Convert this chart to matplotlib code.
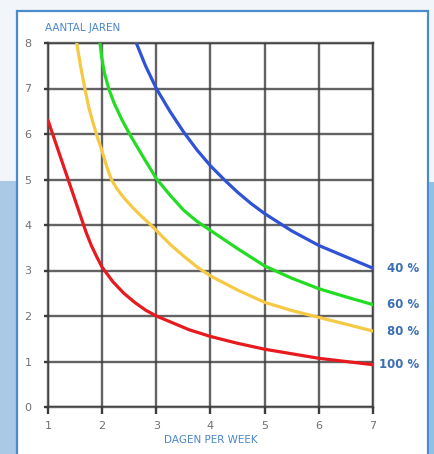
import matplotlib
matplotlib.use("Agg")
import matplotlib.pyplot as plt
from matplotlib.patches import Rectangle

# ---- data ----
days_ticks = [1, 2, 3, 4, 5, 6, 7]
years_ticks = [0, 1, 2, 3, 4, 5, 6, 7, 8]

red_x = [1.0, 1.1, 1.2, 1.3, 1.4, 1.5, 1.6, 1.7, 1.8, 1.9, 2.0, 2.2, 2.4, 2.6, 2.8,
         3.0, 3.3, 3.6, 4.0, 4.5, 5.0, 5.5, 6.0, 6.5, 7.0]
red_y = [6.3, 5.95, 5.6, 5.25, 4.9, 4.55, 4.2, 3.85, 3.55, 3.3, 3.07, 2.75, 2.5, 2.3, 2.13,
         2.0, 1.85, 1.7, 1.55, 1.4, 1.27, 1.17, 1.07, 1.0, 0.93]

yellow_x = [1.53, 1.6, 1.68, 1.75, 1.83, 1.92, 2.0, 2.08, 2.17, 2.27, 2.4, 2.55, 2.7,
            2.9, 3.0, 3.25, 3.5, 3.75, 4.0, 4.5, 5.0, 5.5, 6.0, 6.5, 7.0]
yellow_y = [8.0, 7.5, 7.0, 6.6, 6.25, 5.9, 5.62, 5.3, 5.0, 4.8, 4.6, 4.4, 4.22,
            4.0, 3.88, 3.58, 3.32, 3.08, 2.88, 2.57, 2.3, 2.12, 1.97, 1.82, 1.67]

green_x = [1.96, 1.99, 2.04, 2.12, 2.22, 2.37, 2.53, 2.77, 3.0, 3.25, 3.5, 3.75, 4.0,
           4.5, 5.0, 5.5, 6.0, 6.5, 7.0]
green_y = [8.0, 7.7, 7.35, 7.0, 6.68, 6.3, 5.95, 5.47, 5.02, 4.66, 4.33, 4.08, 3.88,
           3.48, 3.1, 2.83, 2.6, 2.42, 2.25]

blue_x = [2.63, 2.8, 3.0, 3.25, 3.5, 3.75, 4.0, 4.25, 4.5, 4.75, 5.0, 5.5, 6.0, 6.5, 7.0]
blue_y = [8.0, 7.5, 7.0, 6.5, 6.05, 5.65, 5.3, 5.0, 4.72, 4.47, 4.25, 3.87, 3.55, 3.3, 3.05]

series_labels = ["40 %", "60 %", "80 %", "100 %"]
x_title = "DAGEN PER WEEK"
y_title = "AANTAL JAREN"

# ---- figure ----
W, H = 435, 454
fig = plt.figure(figsize=(W / 100, H / 100), dpi=100)
fig.patch.set_facecolor("#f2f5f9")

def fx(px):
    return px / W

def fy(py):
    return 1 - py / H

# light blue side bands
fig.add_artist(Rectangle((0, 0), fx(17), fy(181), transform=fig.transFigure,
                         facecolor="#a9c9e6", edgecolor="none", zorder=-5))
fig.add_artist(Rectangle((fx(429), 0), fx(6), fy(182), transform=fig.transFigure,
                         facecolor="#8fc0e6", edgecolor="none", zorder=5))
# white panel with blue border
fig.add_artist(Rectangle((fx(17), -0.05), fx(411), fy(11) + 0.05, transform=fig.transFigure,
                         facecolor="white", edgecolor="#4a8ccb", linewidth=1.6, zorder=-4))
# right border drawn over the labels (they are cut by it in the reference)
fig.add_artist(Rectangle((fx(427.5), 0), fx(1.5), fy(11), transform=fig.transFigure,
                         facecolor="#4a8ccb", edgecolor="none", zorder=6))

ax = fig.add_axes([fx(48), fy(407), fx(373) - fx(48), fy(43) - fy(407)])
ax.set_facecolor("none")
ax.set_xlim(1, 7)
ax.set_ylim(0, 8)

grid_c = "#3c3c3c"
ax.set_xticks(days_ticks)
ax.set_yticks(years_ticks)
ax.grid(True, color=grid_c, linewidth=1.7, alpha=0.8)
for s in ax.spines.values():
    s.set_color(grid_c)
    s.set_linewidth(1.7)
    s.set_alpha(0.8)
ax.tick_params(axis="y", length=3, width=1.7, color=grid_c, labelcolor="#707070",
               labelsize=8, pad=9)
ax.tick_params(axis="x", length=5, width=1.7, color=grid_c, labelcolor="#707070",
               labelsize=8, pad=5)

lw = 2.3
kw = dict(linewidth=lw, solid_capstyle="round", solid_joinstyle="round", zorder=3)
ax.plot(red_x, red_y, color="#e61a1f", **kw)
ax.plot(yellow_x, yellow_y, color="#f6c944", **kw)
ax.plot(green_x, green_y, color="#25dc25", **kw)
ax.plot(blue_x, blue_y, color="#2f52d6", **kw)

lab_c = "#3b6fb3"
ends = [(7.26, blue_y[-1], series_labels[0]),
        (7.26, green_y[-1], series_labels[1]),
        (7.26, yellow_y[-1], series_labels[2]),
        (7.12, red_y[-1], series_labels[3])]
for x, y, t in ends:
    ax.text(x, y, t, color=lab_c, fontsize=8.5, fontweight="bold",
            ha="left", va="center", clip_on=False)

ax.set_xlabel(x_title, color="#4a86c8", fontsize=7.5, labelpad=3)
fig.text(fx(45), fy(28), y_title, color="#4a86c8", fontsize=7.5,
         ha="left", va="center")

fig.savefig("out.png", dpi=100, facecolor=fig.get_facecolor())
